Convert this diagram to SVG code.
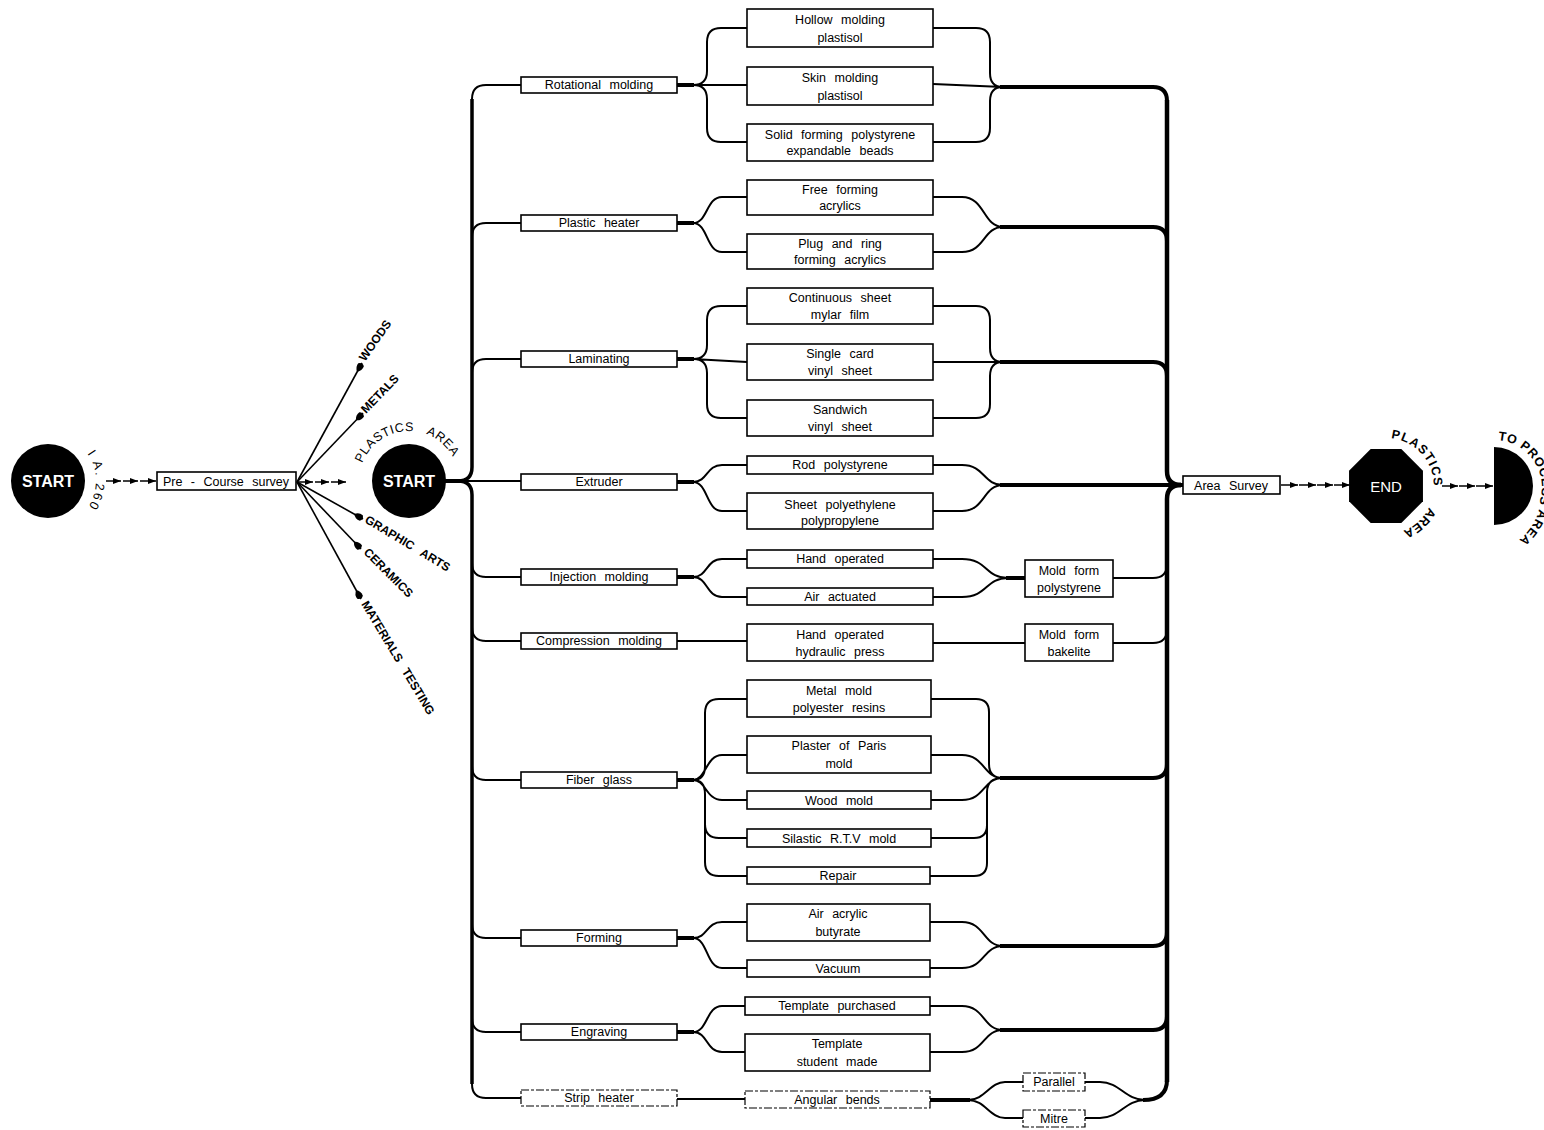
<svg xmlns="http://www.w3.org/2000/svg" width="1544" height="1130" viewBox="0 0 1544 1130">
<style>
.box{fill:#fff;stroke:#000;stroke-width:1.6}
.dbox{fill:#fff;stroke:#000;stroke-width:1.2;stroke-dasharray:8 2 3 2}
.t{font-family:"Liberation Sans",Arial,sans-serif;font-size:12.5px;text-anchor:middle;word-spacing:5px;fill:#000}
.lb{font-family:"Liberation Sans",Arial,sans-serif;font-size:12px;font-weight:bold;fill:#000}
.arc{font-family:"Liberation Sans",Arial,sans-serif;font-size:12.5px;fill:#000}
.w{font-family:"Liberation Sans",Arial,sans-serif;fill:#fff;text-anchor:middle}
.ln{fill:none;stroke:#000;stroke-width:2}
.tk{fill:none;stroke:#000;stroke-width:4}
.bus{fill:none;stroke:#000;stroke-width:3.5}
.rbus{fill:none;stroke:#000;stroke-width:4.5}
.fan{fill:none;stroke:#000;stroke-width:1.6}
.sa{fill:none;stroke:#000;stroke-width:1.5}
</style>
<defs>
<marker id="blob" viewBox="0 -4 11 8" refX="10" refY="0" markerWidth="11" markerHeight="8" markerUnits="userSpaceOnUse" orient="auto">
<path d="M0,0 Q3,-4 8,-3.2 Q11,0 8,3.2 Q3,4 0,0Z" fill="#000"/>
</marker>
<marker id="ah" viewBox="0 0 8 6" refX="8" refY="3" markerWidth="8" markerHeight="6" markerUnits="userSpaceOnUse" orient="auto">
<path d="M0,0 L8,3 L0,6Z" fill="#000"/>
</marker>
<path id="arcStart" d="M87.3,453.5 A48,48 0 0 1 87.3,508.5"/>
<path id="arcPl" d="M360.7,468.1 A50,50 0 0 1 457.3,468.1"/>
<path id="arcEnd" d="M1391,438.3 A48,48 0 0 1 1394.3,533.3"/>
<path id="arcPr" d="M1498,440.2 A47,47 0 0 1 1540.4,498.4 A55,55 0 0 1 1516.5,541.6"/>
</defs>

<!-- connectors -->
<g id="connectors">
<path class="sa" d="M106,481 H121" marker-end="url(#ah)"/>
<path class="sa" d="M123,481 H138" marker-end="url(#ah)"/>
<path class="sa" d="M140,481 H156" marker-end="url(#ah)"/>
<path class="fan" d="M297,482 L362,363" marker-end="url(#blob)"/>
<path class="fan" d="M297,482 L363,413" marker-end="url(#blob)"/>
<path class="fan" d="M297,482 L363,519" marker-end="url(#blob)"/>
<path class="fan" d="M297,482 L361,549" marker-end="url(#blob)"/>
<path class="fan" d="M297,482 L361,599" marker-end="url(#blob)"/>
<path class="sa" d="M298,482 H313" marker-end="url(#ah)"/>
<path class="sa" d="M315,482 H329" marker-end="url(#ah)"/>
<path class="sa" d="M331,482 H346" marker-end="url(#ah)"/>
<path class="bus" d="M472,99 V467 Q472,481 458,481"/>
<path class="bus" d="M472,1084 V495 Q472,481 458,481"/>
<path class="tk" d="M444,481 H462"/>
<path class="ln" d="M458,481 H521"/>
<path class="ln" d="M472,99 Q472,85 486,85 H521"/>
<path class="ln" d="M472,237 Q472,223 486,223 H521"/>
<path class="ln" d="M472,373 Q472,359 486,359 H521"/>
<path class="ln" d="M472,563 Q472,577 486,577 H521"/>
<path class="ln" d="M472,627 Q472,641 486,641 H521"/>
<path class="ln" d="M472,766 Q472,780 486,780 H521"/>
<path class="ln" d="M472,924 Q472,938 486,938 H521"/>
<path class="ln" d="M472,1018 Q472,1032 486,1032 H521"/>
<path class="ln" d="M472,1084 Q472,1098 486,1098 H521"/>
<path class="tk" d="M677,85 H694 M677,223 H694 M677,359 H694 M677,482 H694 M677,577 H694 M677,780 H694 M677,938 H694 M677,1032 H694"/>
<path class="ln" d="M693,85 Q707,85 707,71 V42 Q707,28 721,28 H747 M693,85 H747 M693,85 Q707,85 707,99 V128 Q707,142 721,142 H747"/>
<path class="ln" d="M693,223 C708,223 706,197 722,197 H747 M693,223 C708,223 706,252 722,252 H747"/>
<path class="ln" d="M693,359 Q707,359 707,345 V320 Q707,306 721,306 H747 M693,359 L747,362 M693,359 Q707,359 707,373 V404 Q707,418 721,418 H747"/>
<path class="ln" d="M693,482 C708,482 706,465 722,465 H747 M693,482 C708,482 706,511 722,511 H747"/>
<path class="ln" d="M693,577 C708,577 706,559 722,559 H747 M693,577 C708,577 706,597 722,597 H747"/>
<path class="ln" d="M677,641 H747"/>
<path class="ln" d="M693,780 Q705,780 705,766 V713 Q705,699 719,699 H747 M693,780 C706,780 706,755 722,755 H747 M693,780 C706,780 706,800 722,800 H747 M693,780 Q705,780 705,794 V824 Q705,838 719,838 H747 M693,780 Q705,780 705,794 V862 Q705,876 719,876 H747"/>
<path class="ln" d="M693,938 C708,938 706,922 722,922 H747 M693,938 C708,938 706,968 722,968 H747"/>
<path class="ln" d="M693,1032 C708,1032 706,1006 722,1006 H745 M693,1032 C708,1032 706,1052 722,1052 H745"/>
<path class="ln" d="M677,1099 H745"/>
<path class="ln" d="M933,28 H976 Q990,28 990,42 V73 Q990,87 1003,87 M933,84 L1003,87 M933,142 H976 Q990,142 990,128 V101 Q990,87 1003,87"/>
<path class="ln" d="M933,197 H962 C985,197 983,227 1003,227 M933,252 H962 C985,252 983,227 1003,227"/>
<path class="ln" d="M933,306 H976 Q990,306 990,320 V348 Q990,362 1003,362 M933,362 H1003 M933,418 H976 Q990,418 990,404 V376 Q990,362 1003,362"/>
<path class="ln" d="M933,465 H962 C985,465 983,485 1003,485 M933,511 H962 C985,511 983,485 1003,485"/>
<path class="ln" d="M933,559 H962 C988,559 985,578 1008,578 M933,597 H962 C988,597 985,578 1008,578"/>
<path class="tk" d="M1006,578 H1025"/>
<path class="ln" d="M933,643 H1025"/>
<path class="ln" d="M1113,578 H1153 Q1167,578 1167,564 M1113,643 H1153 Q1167,643 1167,629"/>
<path class="ln" d="M931,699 H976 Q989,699 989,712 V764 Q989,778 1003,778 M931,755 H962 C985,755 983,778 1003,778 M931,800 H962 C985,800 983,778 1003,778 M931,838 H974 Q987,838 987,825 V792 Q987,778 1003,778 M930,876 H974 Q987,876 987,863 V792 Q987,778 1003,778"/>
<path class="ln" d="M930,922 H962 C985,922 983,946 1003,946 M930,968 H962 C985,968 983,946 1003,946"/>
<path class="ln" d="M930,1006 H962 C985,1006 983,1030 1003,1030 M930,1052 H962 C985,1052 983,1030 1003,1030"/>
<path class="tk" d="M930,1100 H970"/>
<path class="ln" d="M968,1100 C985,1100 990,1082 1005,1082 H1023 M968,1100 C985,1100 990,1118 1005,1118 H1023"/>
<path class="ln" d="M1085,1082 H1100 C1120,1082 1125,1100 1145,1100 M1085,1118 H1100 C1120,1118 1125,1100 1145,1100"/>
<path class="tk" d="M1000,87 H1153 Q1167,87 1167,101"/>
<path class="tk" d="M1000,227 H1153 Q1167,227 1167,241"/>
<path class="tk" d="M1000,362 H1153 Q1167,362 1167,376"/>
<path class="tk" d="M1000,485 H1183"/>
<path class="tk" d="M1000,778 H1153 Q1167,778 1167,764"/>
<path class="tk" d="M1000,946 H1153 Q1167,946 1167,932"/>
<path class="tk" d="M1000,1030 H1153 Q1167,1030 1167,1016"/>
<path class="tk" d="M1143,1100 Q1167,1100 1167,1080"/>
<path class="rbus" d="M1167,100 V471 Q1167,485 1181,485"/>
<path class="rbus" d="M1167,1082 V499 Q1167,485 1181,485"/>
<path class="sa" d="M1281,485 H1298" marker-end="url(#ah)"/>
<path class="sa" d="M1299,485 H1316" marker-end="url(#ah)"/>
<path class="sa" d="M1317,485 H1333" marker-end="url(#ah)"/>
<path class="sa" d="M1334,485 H1350" marker-end="url(#ah)"/>
<path class="sa" d="M1442,486 H1458" marker-end="url(#ah)"/>
<path class="sa" d="M1459,486 H1475" marker-end="url(#ah)"/>
<path class="sa" d="M1476,486 H1493" marker-end="url(#ah)"/>
</g>

<!-- nodes -->
<g id="start-main">
<circle cx="48" cy="481" r="37" fill="#000"/>
<text class="w" x="48" y="487" font-size="16" font-weight="bold">START</text>
<text class="arc" font-size="11"><textPath href="#arcStart" textLength="56" lengthAdjust="spacing">I A. 260</textPath></text>
</g>
<g id="pre-course"><rect class="box" x="157" y="472" width="139" height="18"/><text class="t" x="226" y="486" word-spacing="2">Pre - Course survey</text></g>
<g id="woods"><text class="lb" transform="translate(365,362) rotate(-55)">WOODS</text></g>
<g id="metals"><text class="lb" transform="translate(366,414) rotate(-46)">METALS</text></g>
<g id="graphic-arts"><text class="lb" transform="translate(364,522) rotate(31)" word-spacing="6">GRAPHIC ARTS</text></g>
<g id="ceramics"><text class="lb" transform="translate(363,553) rotate(45)">CERAMICS</text></g>
<g id="materials-testing"><text class="lb" transform="translate(361,604) rotate(59)" word-spacing="6">MATERIALS TESTING</text></g>
<g id="start-plastics">
<circle cx="409" cy="481" r="37" fill="#000"/>
<text class="w" x="409" y="487" font-size="16" font-weight="bold">START</text>
<text class="arc" font-size="13" letter-spacing="0.6" word-spacing="9"><textPath href="#arcPl" startOffset="5">PLASTICS AREA</textPath></text>
</g>

<g id="rotational"><rect class="box" x="521" y="77" width="156" height="16"/><text class="t" x="599" y="89">Rotational molding</text></g>
<g id="plastic-heater"><rect class="box" x="521" y="215" width="156" height="16"/><text class="t" x="599" y="227">Plastic heater</text></g>
<g id="laminating"><rect class="box" x="521" y="351" width="156" height="16"/><text class="t" x="599" y="363">Laminating</text></g>
<g id="extruder"><rect class="box" x="521" y="474" width="156" height="16"/><text class="t" x="599" y="486">Extruder</text></g>
<g id="injection"><rect class="box" x="521" y="569" width="156" height="16"/><text class="t" x="599" y="581">Injection molding</text></g>
<g id="compression"><rect class="box" x="521" y="633" width="156" height="16"/><text class="t" x="599" y="645">Compression molding</text></g>
<g id="fiber-glass"><rect class="box" x="521" y="772" width="156" height="16"/><text class="t" x="599" y="784">Fiber glass</text></g>
<g id="forming"><rect class="box" x="521" y="930" width="156" height="16"/><text class="t" x="599" y="942">Forming</text></g>
<g id="engraving"><rect class="box" x="521" y="1024" width="156" height="16"/><text class="t" x="599" y="1036">Engraving</text></g>
<g id="strip-heater"><rect class="dbox" x="521" y="1090" width="156" height="16"/><text class="t" x="599" y="1102">Strip heater</text></g>

<g id="hollow"><rect class="box" x="747" y="9" width="186" height="38"/><text class="t" x="840" y="24">Hollow molding</text><text class="t" x="840" y="42">plastisol</text></g>
<g id="skin"><rect class="box" x="747" y="67" width="186" height="38"/><text class="t" x="840" y="82">Skin molding</text><text class="t" x="840" y="100">plastisol</text></g>
<g id="solid"><rect class="box" x="747" y="124" width="186" height="37"/><text class="t" x="840" y="139">Solid forming polystyrene</text><text class="t" x="840" y="155">expandable beads</text></g>
<g id="free-forming"><rect class="box" x="747" y="180" width="186" height="35"/><text class="t" x="840" y="194">Free forming</text><text class="t" x="840" y="210">acrylics</text></g>
<g id="plug-ring"><rect class="box" x="747" y="234" width="186" height="35"/><text class="t" x="840" y="248">Plug and ring</text><text class="t" x="840" y="264">forming acrylics</text></g>
<g id="continuous"><rect class="box" x="747" y="288" width="186" height="36"/><text class="t" x="840" y="302">Continuous sheet</text><text class="t" x="840" y="319">mylar film</text></g>
<g id="single-card"><rect class="box" x="747" y="344" width="186" height="36"/><text class="t" x="840" y="358">Single card</text><text class="t" x="840" y="375">vinyl sheet</text></g>
<g id="sandwich"><rect class="box" x="747" y="400" width="186" height="36"/><text class="t" x="840" y="414">Sandwich</text><text class="t" x="840" y="431">vinyl sheet</text></g>
<g id="rod"><rect class="box" x="747" y="456" width="186" height="18"/><text class="t" x="840" y="469">Rod polystyrene</text></g>
<g id="sheet-pe"><rect class="box" x="747" y="493" width="186" height="36"/><text class="t" x="840" y="509">Sheet polyethylene</text><text class="t" x="840" y="525">polypropylene</text></g>
<g id="hand-operated"><rect class="box" x="747" y="550" width="186" height="18"/><text class="t" x="840" y="563">Hand operated</text></g>
<g id="air-actuated"><rect class="box" x="747" y="588" width="186" height="17"/><text class="t" x="840" y="601">Air actuated</text></g>
<g id="hydraulic"><rect class="box" x="747" y="624" width="186" height="37"/><text class="t" x="840" y="639">Hand operated</text><text class="t" x="840" y="656">hydraulic press</text></g>
<g id="metal-mold"><rect class="box" x="747" y="680" width="184" height="37"/><text class="t" x="839" y="695">Metal mold</text><text class="t" x="839" y="712">polyester resins</text></g>
<g id="plaster"><rect class="box" x="747" y="736" width="184" height="37"/><text class="t" x="839" y="750">Plaster of Paris</text><text class="t" x="839" y="768">mold</text></g>
<g id="wood-mold"><rect class="box" x="747" y="791" width="184" height="18"/><text class="t" x="839" y="805">Wood mold</text></g>
<g id="silastic"><rect class="box" x="747" y="829" width="184" height="18"/><text class="t" x="839" y="843">Silastic R.T.V mold</text></g>
<g id="repair"><rect class="box" x="747" y="867" width="183" height="17"/><text class="t" x="838" y="880">Repair</text></g>
<g id="air-acrylic"><rect class="box" x="747" y="904" width="183" height="37"/><text class="t" x="838" y="918">Air acrylic</text><text class="t" x="838" y="936">butyrate</text></g>
<g id="vacuum"><rect class="box" x="747" y="960" width="183" height="17"/><text class="t" x="838" y="973">Vacuum</text></g>
<g id="template-purchased"><rect class="box" x="745" y="997" width="185" height="18"/><text class="t" x="837" y="1010">Template purchased</text></g>
<g id="template-student"><rect class="box" x="745" y="1034" width="185" height="37"/><text class="t" x="837" y="1048">Template</text><text class="t" x="837" y="1066">student made</text></g>
<g id="angular-bends"><rect class="dbox" x="745" y="1091" width="185" height="17"/><text class="t" x="837" y="1104">Angular bends</text></g>

<g id="mold-polystyrene"><rect class="box" x="1025" y="560" width="88" height="37"/><text class="t" x="1069" y="575">Mold form</text><text class="t" x="1069" y="592">polystyrene</text></g>
<g id="mold-bakelite"><rect class="box" x="1025" y="624" width="88" height="37"/><text class="t" x="1069" y="639">Mold form</text><text class="t" x="1069" y="656">bakelite</text></g>
<g id="parallel"><rect class="dbox" x="1023" y="1073" width="62" height="18"/><text class="t" x="1054" y="1086">Parallel</text></g>
<g id="mitre"><rect class="dbox" x="1023" y="1110" width="62" height="17"/><text class="t" x="1054" y="1123">Mitre</text></g>

<g id="area-survey"><rect class="box" x="1183" y="476" width="97" height="18"/><text class="t" x="1231" y="490">Area Survey</text></g>
<g id="end">
<polygon points="1422.96,501.31 1401.31,522.96 1370.69,522.96 1349.04,501.31 1349.04,470.69 1370.69,449.04 1401.31,449.04 1422.96,470.69" fill="#000"/>
<text class="w" x="1386" y="492" font-size="15">END</text>
<text class="arc" font-weight="bold" font-size="12"><textPath href="#arcEnd" textLength="70" lengthAdjust="spacing">PLASTICS</textPath></text>
<text class="arc" font-weight="bold" font-size="12"><textPath href="#arcEnd" startOffset="92" textLength="36" lengthAdjust="spacing">AREA</textPath></text>
</g>
<g id="to-process">
<path d="M1494,447 A39,39 0 0 1 1494,525 Z" fill="#000"/>
<text class="arc" font-size="11.5" font-weight="bold"><textPath href="#arcPr" textLength="130" lengthAdjust="spacing">TO PROCESS AREA</textPath></text>
</g>
</svg>
